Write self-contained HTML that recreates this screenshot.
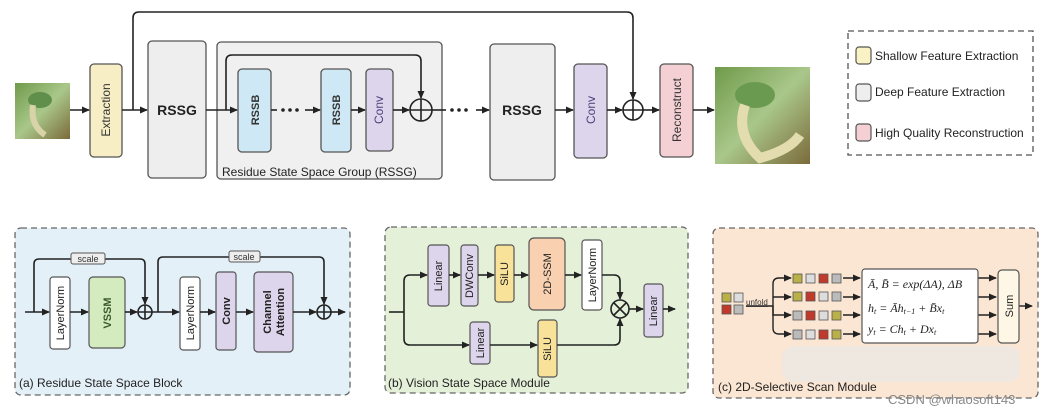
<!DOCTYPE html>
<html><head><meta charset="utf-8"><style>
body{margin:0;background:#fff;}
svg{display:block;font-family:"Liberation Sans",sans-serif;}
</style></head><body>
<svg width="1062" height="414" viewBox="0 0 1062 414" xmlns="http://www.w3.org/2000/svg">
<defs>
<marker id="a" markerWidth="8" markerHeight="8" refX="7" refY="4" orient="auto" markerUnits="userSpaceOnUse"><path d="M0,0.5 L8,4 L0,7.5z" fill="#222"/></marker>
<linearGradient id="img" x1="0" y1="0" x2="1" y2="1"><stop offset="0" stop-color="#6f9a4a"/><stop offset="0.5" stop-color="#a9c78a"/><stop offset="1" stop-color="#7b6a3a"/></linearGradient>
</defs>
<g stroke="#222" stroke-width="1.6" fill="none">
<!-- top main skip -->
<path d="M133,110 V18 Q133,12 139,12 H627 Q633,12 633,18 V99" marker-end="url(#a)"/>
</g>
<!-- input image -->
<rect x="15" y="83" width="55" height="56" fill="url(#img)"/>
<ellipse cx="40" cy="100" rx="12" ry="8" fill="#5f8f4a"/><path d="M33,105 Q30,125 45,135" stroke="#d8d3a8" stroke-width="6" fill="none"/>
<!-- boxes top -->
<g stroke="#555" stroke-width="1.3">
<rect x="90" y="64" width="32" height="93" rx="4" fill="#f7eec6"/>
<rect x="148" y="41" width="58" height="137" rx="4" fill="#eeeeee"/>
<rect x="217" y="42" width="225" height="137" rx="4" fill="#f0f0f0"/>
<rect x="238" y="69" width="33" height="83" rx="4" fill="#cfe8f5"/>
<rect x="321" y="69" width="30" height="83" rx="4" fill="#cfe8f5"/>
<rect x="366" y="69" width="27" height="82" rx="4" fill="#ddd5ec"/>
<rect x="490" y="44" width="65" height="136" rx="4" fill="#eeeeee"/>
<rect x="574" y="64" width="33" height="94" rx="4" fill="#ddd5ec"/>
<rect x="660" y="64" width="33" height="93" rx="4" fill="#f4d0d4"/>
</g>
<rect x="715" y="67" width="95" height="97" fill="url(#img)"/>
<ellipse cx="755" cy="95" rx="20" ry="13" fill="#6a9a50"/><path d="M745,105 Q735,135 760,158 Q790,150 800,135" stroke="#e3dcae" stroke-width="10" fill="none"/>
<g stroke="#222" stroke-width="1.6" fill="none">
<path d="M70,110 H89" marker-end="url(#a)"/>
<path d="M122,110 H147" marker-end="url(#a)"/>
<path d="M206,110 H237" marker-end="url(#a)"/>
<path d="M226,110 V61 Q226,55 232,55 H415 Q421,55 421,61 V98" marker-end="url(#a)"/>
<path d="M271,110 H277"/><path d="M305,110 H320" marker-end="url(#a)"/>
<path d="M351,110 H365" marker-end="url(#a)"/>
<path d="M393,110 H409" marker-end="url(#a)"/>
<circle cx="421" cy="110" r="11"/><path d="M410,110H432M421,99V121"/>
<path d="M432,110 H446"/><path d="M476,110 H489" marker-end="url(#a)"/>
<path d="M555,110 H573" marker-end="url(#a)"/>
<path d="M607,110 H622" marker-end="url(#a)"/>
<circle cx="633" cy="110" r="10"/><path d="M623,110H643M633,100V120"/>
<path d="M643,110 H659" marker-end="url(#a)"/>
<path d="M693,110 H714" marker-end="url(#a)"/>
</g>
<g fill="#222"><circle cx="283" cy="110" r="1.8"/><circle cx="290" cy="110" r="1.8"/><circle cx="297" cy="110" r="1.8"/>
<circle cx="452" cy="110" r="1.8"/><circle cx="459" cy="110" r="1.8"/><circle cx="466" cy="110" r="1.8"/></g>
<g font-size="13" fill="#222" font-weight="bold">
<text x="177" y="115" text-anchor="middle" font-size="14">RSSG</text>
<text x="522" y="115" text-anchor="middle" font-size="14">RSSG</text>
</g>
<g font-size="12" fill="#333" text-anchor="middle">
<text transform="translate(110,110) rotate(-90)">Extraction</text>
<text transform="translate(259,110) rotate(-90)" font-weight="bold" font-size="11">RSSB</text>
<text transform="translate(340,110) rotate(-90)" font-weight="bold" font-size="11">RSSB</text>
<text transform="translate(383,110) rotate(-90)" fill="#4a3f7a">Conv</text>
<text transform="translate(595,110) rotate(-90)" fill="#4a3f7a">Conv</text>
<text transform="translate(681,110) rotate(-90)">Reconstruct</text>
</g>
<text x="222" y="176" font-size="12" fill="#222">Residue State Space Group (RSSG)</text>
<!-- legend -->
<rect x="848" y="31" width="185" height="124" fill="none" stroke="#555" stroke-width="1.3" stroke-dasharray="6,4"/>
<g stroke="#555" stroke-width="1.2">
<rect x="856" y="47" width="15" height="17" rx="3" fill="#f8f2c4"/>
<rect x="856" y="84" width="15" height="17" rx="3" fill="#eeeeee"/>
<rect x="856" y="124" width="15" height="17" rx="3" fill="#f4d0d4"/>
</g>
<g font-size="12" fill="#222">
<text x="875" y="60">Shallow Feature Extraction</text>
<text x="875" y="96">Deep Feature Extraction</text>
<text x="875" y="137">High Quality Reconstruction</text>
</g>
<!-- panel a -->
<rect x="15" y="228" width="335" height="167" rx="6" fill="#e4f0f8" stroke="#666" stroke-width="1.3" stroke-dasharray="6,4"/>
<g stroke="#555" stroke-width="1.2">
<rect x="50" y="277" width="20" height="72" rx="3" fill="#fff"/>
<rect x="89" y="277" width="36" height="71" rx="4" fill="#d4ebc0"/>
<rect x="180" y="277" width="20" height="73" rx="3" fill="#fff"/>
<rect x="216" y="272" width="20" height="78" rx="3" fill="#ddd5ec"/>
<rect x="254" y="272" width="39" height="80" rx="4" fill="#ddd5ec"/>
</g>
<g stroke="#222" stroke-width="1.6" fill="none">
<path d="M25,312 H49" marker-end="url(#a)"/>
<path d="M34,312 V264 Q34,259 39,259 H140 Q145,259 145,264 V304" marker-end="url(#a)"/>
<path d="M70,312 H88" marker-end="url(#a)"/>
<path d="M125,312 H137" marker-end="url(#a)"/>
<circle cx="145" cy="312" r="7"/><path d="M138,312H152M145,305V319"/>
<path d="M152,312 H179" marker-end="url(#a)"/>
<path d="M158,312 V262 Q158,257 163,257 H319 Q324,257 324,262 V304" marker-end="url(#a)"/>
<path d="M200,312 H215" marker-end="url(#a)"/>
<path d="M236,312 H253" marker-end="url(#a)"/>
<path d="M293,312 H316" marker-end="url(#a)"/>
<circle cx="324" cy="312" r="7"/><path d="M317,312H331M324,305V319"/>
<path d="M331,312 H345" marker-end="url(#a)"/>
</g>
<rect x="71" y="253" width="34" height="11" rx="2" fill="#eee" stroke="#555"/>
<rect x="229" y="251" width="31" height="11" rx="2" fill="#eee" stroke="#555"/>
<g font-size="9" fill="#333" text-anchor="middle"><text x="88" y="262">scale</text><text x="244" y="260">scale</text></g>
<g font-size="11" fill="#222" text-anchor="middle">
<text transform="translate(64,313) rotate(-90)">LayerNorm</text>
<text transform="translate(111,313) rotate(-90)" font-weight="bold" fill="#3a5a2a">VSSM</text>
<text transform="translate(194,313) rotate(-90)">LayerNorm</text>
<text transform="translate(230,311) rotate(-90)" font-weight="bold">Conv</text>
<text transform="translate(271,312) rotate(-90)" font-weight="bold">Channel</text>
<text transform="translate(284,312) rotate(-90)" font-weight="bold">Attention</text>
</g>
<text x="19" y="387" font-size="12" fill="#222">(a) Residue State Space Block</text>
<!-- panel b -->
<rect x="385" y="227" width="303" height="166" rx="6" fill="#e5f0d9" stroke="#666" stroke-width="1.3" stroke-dasharray="6,4"/>
<g stroke="#555" stroke-width="1.2">
<rect x="428" y="245" width="21" height="61" rx="3" fill="#ddd5ec"/>
<rect x="461" y="245" width="17" height="61" rx="3" fill="#ddd5ec"/>
<rect x="495" y="245" width="19" height="57" rx="3" fill="#f8e29a"/>
<rect x="529" y="238" width="36" height="72" rx="5" fill="#f9d1b0"/>
<rect x="582" y="240" width="20" height="70" rx="3" fill="#fff"/>
<rect x="644" y="284" width="19" height="53" rx="3" fill="#ddd5ec"/>
<rect x="470" y="322" width="20" height="42" rx="3" fill="#ddd5ec"/>
<rect x="538" y="320" width="19" height="57" rx="3" fill="#f8e29a"/>
</g>
<g stroke="#222" stroke-width="1.6" fill="none">
<path d="M389,312 H404"/>
<path d="M404,312 V281 Q404,275 410,275 H427" marker-end="url(#a)"/>
<path d="M404,312 V339 Q404,345 410,345 H469" marker-end="url(#a)"/>
<path d="M449,275 H460" marker-end="url(#a)"/>
<path d="M478,275 H494" marker-end="url(#a)"/>
<path d="M514,275 H528" marker-end="url(#a)"/>
<path d="M565,275 H581" marker-end="url(#a)"/>
<path d="M602,275 H614 Q620,275 620,281 V299" marker-end="url(#a)"/>
<path d="M490,345 H537" marker-end="url(#a)"/>
<path d="M557,345 H614 Q620,345 620,339 V319" marker-end="url(#a)"/>
<circle cx="620" cy="309" r="9"/><path d="M614,303L626,315M626,303L614,315"/>
<path d="M629,309 H643" marker-end="url(#a)"/>
<path d="M663,309 H675" marker-end="url(#a)"/>
</g>
<g font-size="11" fill="#222" text-anchor="middle">
<text transform="translate(442,276) rotate(-90)">Linear</text>
<text transform="translate(473,276) rotate(-90)">DWConv</text>
<text transform="translate(508,274) rotate(-90)">SiLU</text>
<text transform="translate(551,274) rotate(-90)">2D-SSM</text>
<text transform="translate(596,275) rotate(-90)">LayerNorm</text>
<text transform="translate(657,311) rotate(-90)">Linear</text>
<text transform="translate(484,343) rotate(-90)">Linear</text>
<text transform="translate(551,349) rotate(-90)">SiLU</text>
</g>
<text x="388" y="387" font-size="12" fill="#222">(b) Vision State Space Module</text>
<!-- panel c -->
<rect x="713" y="228" width="325" height="170" rx="6" fill="#fbe6d3" stroke="#666" stroke-width="1.3" stroke-dasharray="6,4"/>
<g stroke="#555" stroke-width="0.8">
<rect x="722" y="293" width="9" height="9" fill="#b9b04a"/><rect x="734" y="293" width="9" height="9" fill="#ddd"/>
<rect x="722" y="305" width="9" height="9" fill="#c0392b"/><rect x="734" y="305" width="9" height="9" fill="#bbb"/>
<rect x="793" y="274" width="9" height="9" fill="#b9b04a"/><rect x="806" y="274" width="9" height="9" fill="#ddd"/><rect x="819" y="274" width="9" height="9" fill="#c0392b"/><rect x="832" y="274" width="9" height="9" fill="#bbb"/>
<rect x="793" y="292" width="9" height="9" fill="#b9b04a"/><rect x="806" y="292" width="9" height="9" fill="#c0392b"/><rect x="819" y="292" width="9" height="9" fill="#ddd"/><rect x="832" y="292" width="9" height="9" fill="#bbb"/>
<rect x="793" y="311" width="9" height="9" fill="#bbb"/><rect x="806" y="311" width="9" height="9" fill="#c0392b"/><rect x="819" y="311" width="9" height="9" fill="#ddd"/><rect x="832" y="311" width="9" height="9" fill="#b9b04a"/>
<rect x="793" y="330" width="9" height="9" fill="#bbb"/><rect x="806" y="330" width="9" height="9" fill="#ddd"/><rect x="819" y="330" width="9" height="9" fill="#c0392b"/><rect x="832" y="330" width="9" height="9" fill="#b9b04a"/>
</g>
<text x="746" y="305" font-size="8" fill="#333" text-decoration="underline">unfold</text>
<g stroke="#222" stroke-width="1.4" fill="none">
<path d="M746,306 H773"/>
<path d="M773,306 V284 Q773,278 779,278 H791" marker-end="url(#a)"/>
<path d="M773,297 H791" marker-end="url(#a)"/>
<path d="M773,306 V315 H791" marker-end="url(#a)"/>
<path d="M773,306 V328 Q773,334 779,334 H791" marker-end="url(#a)"/>
<path d="M843,278 H860" marker-end="url(#a)"/><path d="M843,297 H860" marker-end="url(#a)"/>
<path d="M843,315 H860" marker-end="url(#a)"/><path d="M843,334 H860" marker-end="url(#a)"/>
<path d="M978,278 H996" marker-end="url(#a)"/><path d="M978,297 H996" marker-end="url(#a)"/>
<path d="M978,315 H996" marker-end="url(#a)"/><path d="M978,334 H996" marker-end="url(#a)"/>
<path d="M1019,306 H1032" marker-end="url(#a)"/>
</g>
<rect x="862" y="269" width="116" height="74" rx="3" fill="#fff" stroke="#555" stroke-width="1.2"/>
<rect x="998" y="270" width="21" height="73" rx="4" fill="#fff7e6" stroke="#555" stroke-width="1.2"/>
<text transform="translate(1013,306) rotate(-90)" font-size="11" text-anchor="middle" fill="#222">Sum</text>
<g font-family="Liberation Serif,serif" font-size="12" fill="#222" font-style="italic">
<text x="868" y="288">Ā, B̄ = exp(ΔA), ΔB</text>
<text x="868" y="312">h<tspan font-size="8" dy="2">t</tspan><tspan dy="-2"> = Āh</tspan><tspan font-size="8" dy="2">t−1</tspan><tspan dy="-2"> + B̄x</tspan><tspan font-size="8" dy="2">t</tspan></text>
<text x="868" y="333">y<tspan font-size="8" dy="2">t</tspan><tspan dy="-2"> = Ch</tspan><tspan font-size="8" dy="2">t</tspan><tspan dy="-2"> + Dx</tspan><tspan font-size="8" dy="2">t</tspan></text>
</g>
<text x="718" y="391" font-size="12" fill="#222">(c) 2D-Selective Scan Module</text>
<rect x="782" y="346" width="238" height="36" rx="12" fill="#eee8e2" opacity="0.95"/>
<text x="888" y="404" font-size="13" fill="#888">CSDN @whaosoft143</text>
</svg>
</body></html>
